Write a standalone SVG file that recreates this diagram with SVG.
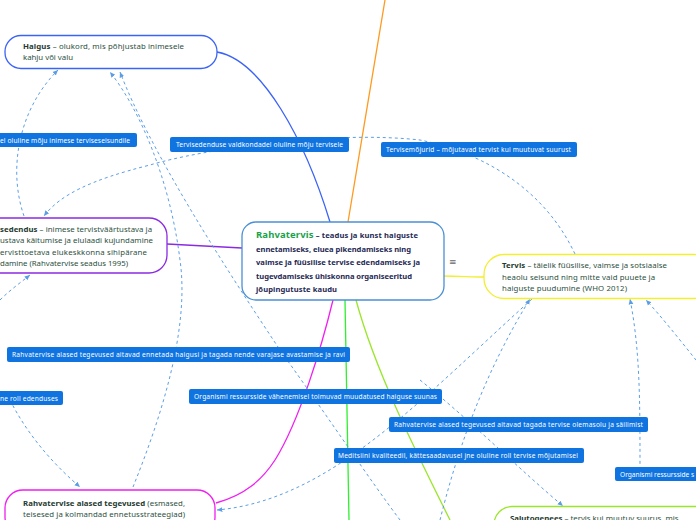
<svg xmlns="http://www.w3.org/2000/svg" width="696" height="520" viewBox="0 0 696 520">
<style>
.node{fill:#fff;stroke-width:1.3}
.nt{font-family:"Noto Sans","Open Sans",sans-serif;font-size:7.8px;fill:#2c5040}
.b{font-weight:bold;fill:#1e3a30}
.ct{font-family:"Noto Sans","Open Sans",sans-serif;font-size:7.6px;font-weight:bold;fill:#1f2a55}
.lb{fill:#0f74e0}
.lt{font-family:"Noto Sans","Open Sans",sans-serif;font-size:6.6px;fill:#fff}
.br{fill:none;stroke-width:1.3}
.dl{fill:none;stroke:#5c9ee6;stroke-width:1;stroke-dasharray:3,3}
</style>
<defs>
<marker id="ar" viewBox="0 0 10 10" refX="9" refY="5" markerWidth="6" markerHeight="6" orient="auto-start-reverse" markerUnits="userSpaceOnUse">
<path d="M0,1 L9,5 L0,9 Z" fill="#5c9ee6"/>
</marker>
</defs>
<rect width="696" height="520" fill="#fff"/>
<g id="connectors">
<path class="br" stroke="#3b63f5" d="M217,52 C262,60 305,140 330,222"/>
<path class="br" stroke="#ff9a1f" d="M348,222 C360,150 375,60 385,0"/>
<path class="br" stroke="#8a2be2" d="M167,244 L242,248"/>
<path class="br" stroke="#f2ee30" d="M443,276 C460,276 470,277 484,277"/>
<path class="br" stroke="#f01ef0" d="M333,300 C322,345 300,420 275,460 C262,480 245,495 216,503"/>
<path class="br" stroke="#2ef02e" d="M345,300 L349,520"/>
<path class="br" stroke="#9ae62a" d="M356,300 C375,370 415,450 450,520"/>
<path class="dl" marker-end="url(#ar)" d="M24,216 C8,170 18,110 58,70"/>
<path class="dl" marker-end="url(#ar)" d="M575,254 C540,180 470,150 420,140 C330,130 200,150 150,165 C90,180 60,195 44,216"/>
<path class="dl" marker-end="url(#ar)" d="M133,487 C160,420 190,330 180,260 C170,180 140,110 110,72"/>
<path class="dl" marker-end="url(#ar)" d="M400,520 C370,480 330,420 280,350 C220,260 150,150 120,72"/>
<path class="dl" marker-end="url(#ar)" d="M532,299 C420,400 330,500 217,510"/>
<path class="dl" marker-end="url(#ar)" d="M0,300 C10,290 20,283 30,275"/>
<path class="dl" marker-end="url(#ar)" d="M10,400 C30,440 60,470 80,487"/>
<path class="dl" marker-end="url(#ar)" d="M440,520 C455,460 480,380 530,299"/>
<path class="dl" marker-end="url(#ar)" d="M420,380 C470,420 520,470 563,506"/>
<path class="dl" marker-end="url(#ar)" d="M640,470 C640,400 640,350 630,299"/>
<path class="dl" marker-end="url(#ar)" d="M700,365 C680,340 660,315 646,300"/>
</g>
<g id="haigus">
<rect class="node" stroke="#3b63f5" x="5" y="35.5" width="212" height="33" rx="16"/>
<text class="nt" x="23" y="49" textLength="161"><tspan class="b">Haigus</tspan> – olukord, mis põhjustab inimesele</text>
<text class="nt" x="23" y="60" textLength="50">kahju või valu</text>
</g>
<g id="rahvatervis">
<rect class="node" stroke="#4a8fd6" x="242" y="222" width="202" height="78" rx="14"/>
<text class="ct" x="256" y="238" textLength="162"><tspan style="fill:#1aa34a;font-size:9.5px">Rahvatervis</tspan> – teadus ja kunst haiguste</text>
<text class="ct" x="256" y="252" textLength="155">ennetamiseks, eluea pikendamiseks ning</text>
<text class="ct" x="256" y="265" textLength="164">vaimse ja füüsilise tervise edendamiseks ja</text>
<text class="ct" x="256" y="279" textLength="156">tugevdamiseks ühiskonna organiseeritud</text>
<text class="ct" x="256" y="292" textLength="81">jõupingutuste kaudu</text>
<text x="449" y="265" style="font-family:'DejaVu Sans',sans-serif;font-size:9px;fill:#666">≡</text>
</g>
<g id="tervis">
<rect class="node" stroke="#f2ee30" x="484" y="254.5" width="230" height="44" rx="20"/>
<text class="nt" x="502" y="268" textLength="165"><tspan class="b">Tervis</tspan> – täielik füüsilise, vaimse ja sotsiaalse</text>
<text class="nt" x="502" y="280" textLength="153">heaolu seisund ning mitte vaid puuete ja</text>
<text class="nt" x="502" y="291" textLength="125">haiguste puudumine (WHO 2012)</text>
</g>
<g id="tervisedendus">
<rect class="node" stroke="#8a2be2" x="-40" y="218" width="207" height="55" rx="18"/>
<text class="nt" x="0" y="232" textLength="152"><tspan class="b">sedendus</tspan> – inimese tervistväärtustava ja</text>
<text class="nt" x="0" y="243" textLength="153">ustava käitumise ja elulaadi kujundamine</text>
<text class="nt" x="0" y="255" textLength="147">ervisttoetava elukeskkonna sihipärane</text>
<text class="nt" x="0" y="266" textLength="128">damine (Rahvatervise seadus 1995)</text>
</g>
<g id="tegevused">
<rect class="node" stroke="#f01ef0" x="5" y="490" width="210" height="45" rx="18"/>
<text class="nt" x="23" y="506" textLength="162"><tspan class="b">Rahvatervise alased tegevused</tspan> (esmased,</text>
<text class="nt" x="23" y="517" textLength="162">teisesed ja kolmandad ennetusstrateegiad)</text>
</g>
<g id="salutogenees">
<rect class="node" stroke="#9ae62a" x="494" y="506.5" width="230" height="40" rx="18"/>
<text class="nt" x="510" y="520.5"><tspan class="b">Salutogenees</tspan> – tervis kui muutuv suurus, mis</text>
</g>
<g id="labels">
<rect class="lb" x="-5" y="133" width="142" height="14" rx="2"/>
<text class="lt" x="0" y="142.5" textLength="130">el oluline mõju inimese terviseseisundile</text>
<rect class="lb" x="170" y="137" width="179" height="15" rx="2"/>
<text class="lt" x="176" y="147" textLength="167">Tervisedenduse valdkondadel oluline mõju tervisele</text>
<rect class="lb" x="381" y="142" width="196" height="15" rx="2"/>
<text class="lt" x="386" y="152" textLength="185">Tervisemõjurid – mõjutavad tervist kui muutuvat suurust</text>
<rect class="lb" x="7" y="347" width="343" height="15" rx="2"/>
<text class="lt" x="12" y="357" textLength="333">Rahvatervise alased tegevused aitavad ennetada haigusi ja tagada nende varajase avastamise ja ravi</text>
<rect class="lb" x="-5" y="391" width="68" height="14" rx="2"/>
<text class="lt" x="0" y="400.5" textLength="58">ne roll edenduses</text>
<rect class="lb" x="189" y="389" width="253" height="15" rx="2"/>
<text class="lt" x="194" y="399" textLength="243">Organismi ressursside vähenemisel toimuvad muudatused haiguse suunas</text>
<rect class="lb" x="389" y="417" width="259" height="15" rx="2"/>
<text class="lt" x="394" y="427" textLength="249">Rahvatervise alased tegevused aitavad tagada tervise olemasolu ja säilimist</text>
<rect class="lb" x="334" y="448" width="250" height="15" rx="2"/>
<text class="lt" x="338" y="458" textLength="240">Meditsiini kvaliteedil, kättesaadavusel jne oluline roll tervise mõjutamisel</text>
<rect class="lb" x="615" y="467" width="90" height="14" rx="2"/>
<text class="lt" x="620" y="477">Organismi ressursside s</text>
</g>
</svg>
